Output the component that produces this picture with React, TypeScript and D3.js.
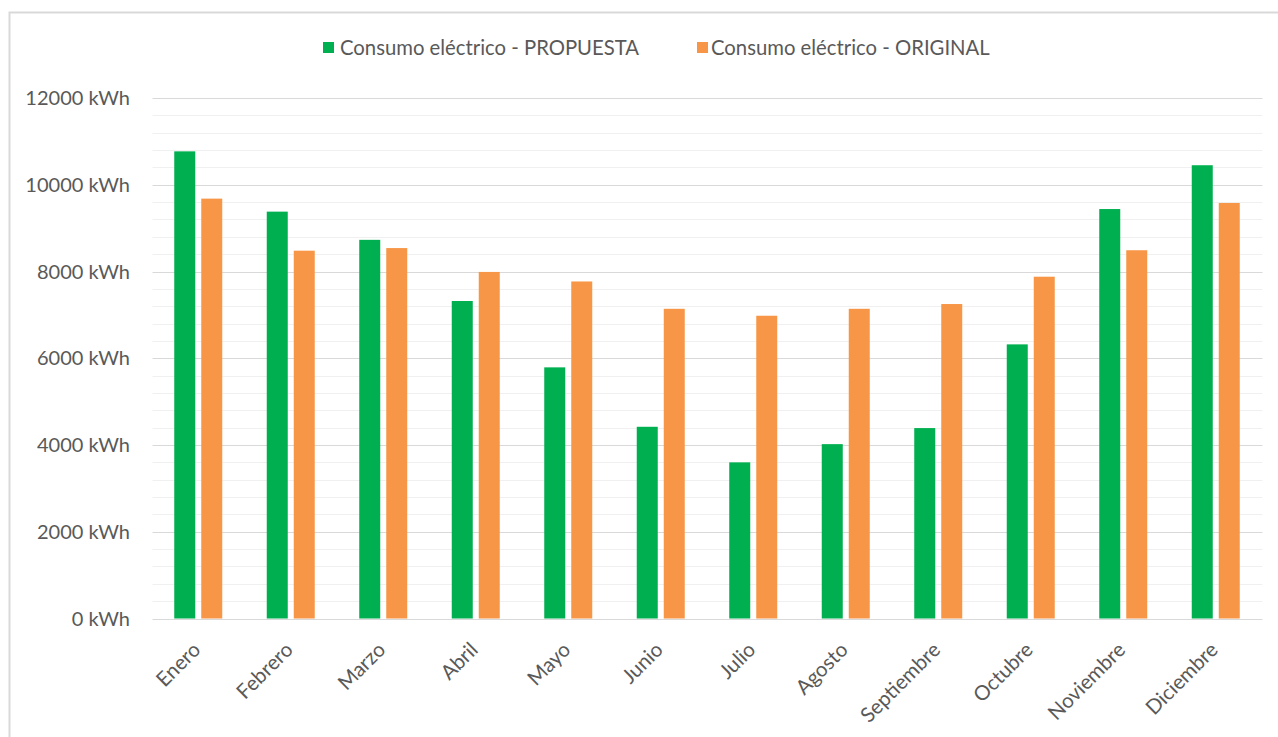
import React from "react";
import * as d3 from "d3";

const months = ["Enero","Febrero","Marzo","Abril","Mayo","Junio","Julio","Agosto","Septiembre","Octubre","Noviembre","Diciembre"];
const propuesta = [10770, 9380, 8730, 7320, 5790, 4420, 3600, 4020, 4390, 6320, 9440, 10450];
const original = [9680, 8480, 8540, 7990, 7770, 7140, 6980, 7140, 7250, 7880, 8490, 9580];
const seriesNames = ["Consumo eléctrico - PROPUESTA", "Consumo eléctrico - ORIGINAL"];
const seriesColors = ["#00B050", "#F79646"];
const yMajorTicks = [0, 2000, 4000, 6000, 8000, 10000, 12000];

const W = 1278, H = 737;
const FONT = "Lato, 'Open Sans', sans-serif";
const TXT = "#595959";

export default function App() {
  const x0 = d3.scaleBand<string>().domain(months).range([152.5, 1262.5]).paddingInner(0).paddingOuter(0);
  const y = d3.scaleLinear().domain([0, 12000]).range([618.5, 98]);
  const bw = x0.bandwidth();
  const barW = 21;
  const gap = 6;
  const x1 = d3.scaleOrdinal<number, number>().domain([0, 1]).range([bw / 2 - barW - gap / 2 - 0.5, bw / 2 + gap / 2 - 0.5]);
  const minor = d3.range(0, 12001, 400).filter(v => v % 2000 !== 0);
  const data = [propuesta, original];

  return (
    <svg width={W} height={H} style={{ position: "absolute", left: 0, top: 0, background: "#fff" }} fontFamily={FONT}>
      <rect x={9.5} y={12.5} width={1400} height={900} fill="#fff" stroke="#d9d9d9" strokeWidth={2} />
      {minor.map(v => (
        <line key={"m" + v} x1={152.5} x2={1262.5} y1={Math.round(y(v)) + 0.5} y2={Math.round(y(v)) + 0.5} stroke="#f0f0f0" strokeWidth={1} />
      ))}
      {yMajorTicks.map(v => (
        <line key={"M" + v} x1={152.5} x2={1262.5} y1={Math.round(y(v)) + 0.5} y2={Math.round(y(v)) + 0.5} stroke="#d9d9d9" strokeWidth={1} />
      ))}
      {yMajorTicks.map(v => (
        <text key={"t" + v} x={130} y={y(v)} dy="0.35em" textAnchor="end" fontSize={20} fill={TXT}>{`${v} kWh`}</text>
      ))}
      {data.map((series, si) => series.map((v, i) => (
        <rect key={si + "-" + i} x={(x0(months[i]) as number) + x1(si)} y={y(v)} width={barW} height={y(0) - y(v)} fill={seriesColors[si]} />
      )))}
      {months.map(m => {
        const cx = (x0(m) as number) + bw / 2 + 3;
        const cy = 651;
        return (
          <text key={m} x={cx} y={cy} textAnchor="end" fontSize={20.5} fill={TXT} transform={`rotate(-45, ${cx}, ${cy})`}>{m}</text>
        );
      })}
      <g>
        <rect x={323} y={42} width={11} height={11} fill={seriesColors[0]} />
        <text x={340} y={48} dy="0.35em" fontSize={20.3} fill={TXT}>{seriesNames[0]}</text>
        <rect x={697} y={42} width={11} height={11} fill={seriesColors[1]} />
        <text x={711} y={48} dy="0.35em" fontSize={20.3} fill={TXT}>{seriesNames[1]}</text>
      </g>
    </svg>
  );
}
